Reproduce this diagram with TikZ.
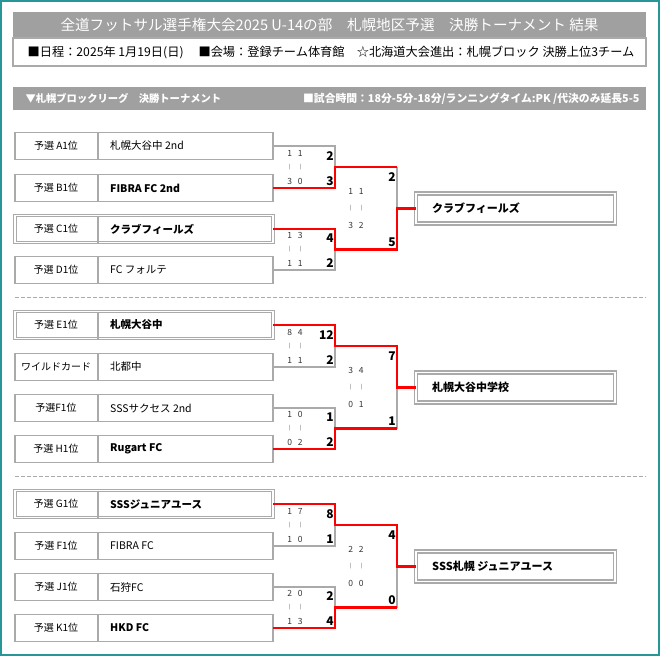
\documentclass[tikz,border=0pt]{standalone}
\usepackage{fontspec}
\usepackage{graphicx}
\setmainfont{Noto Sans CJK JP}
\definecolor{teal1}{RGB}{38,150,150}
\definecolor{barg}{RGB}{160,160,160}
\definecolor{lineg}{RGB}{170,170,170}
\definecolor{redl}{RGB}{255,0,0}
\newcommand\pair[2]{\makebox[5pt]{#1}\hspace{5.5pt}\makebox[5pt]{#2}}
\newcommand\vdashmark{{\fontsize{5}{5}\selectfont |}}
% name, x, ytop, ybot, a, b, c, d
\newcommand\hsc[8]{%
  \node[hs] (#1t) at (#2,#3) {\pair{#5}{#6}};
  \node[hs] (#1m) at (#2,{(#3+#4)/2}) {\pair{\vdashmark}{\vdashmark}};
  \node[hs] (#1b) at (#2,#4) {\pair{#7}{#8}};
}
% name, y, label, team, style
\newcommand\team[5]{%
  \node[#5] (#1) at (144,#2) {};
  \draw[boxline] ([xshift=-46pt]#1.north) -- ([xshift=-46pt]#1.south);
  \node[lbl] (#1l) at ([xshift=-88pt]#1.center) {#3};
  \node[nm] (#1n) at ([xshift=-34pt]#1.center) {#4};
}
\tikzset{
  teambox/.style={draw=lineg, line width=1.3pt, minimum width=258pt, minimum height=27pt, inner sep=0pt, outer sep=0pt},
  winteam/.style={teambox, line width=1.1pt, double=white, double distance=1.2pt},
  winbox/.style={draw=lineg, line width=1.4pt, double=white, double distance=1.4pt, minimum width=199pt, minimum height=30pt, inner sep=0pt, outer sep=0pt},
  boxline/.style={draw=lineg, line width=1.3pt},
  gl/.style={draw=lineg, line width=2pt},
  rl/.style={draw=redl, line width=2.6pt},
  lbl/.style={font=\fontsize{10}{12}\selectfont, inner sep=0pt},
  nm/.style={font=\fontsize{10.5}{12}\selectfont, inner sep=0pt, anchor=west},
  wn/.style={font=\bfseries\fontsize{11}{13}\selectfont, inner sep=0pt, anchor=west},
  hs/.style={font=\fontsize{8.5}{10}\selectfont, inner sep=0pt, text=black!80},
  sc/.style={font=\bfseries\fontsize{12}{14}\selectfont, inner sep=0pt, anchor=east},
  divl/.style={draw=lineg, line width=1.5pt, dash pattern=on 4pt off 2pt}
}
\begin{document}
\begin{tikzpicture}[x=1pt,y=-1pt]
\useasboundingbox (0,0) rectangle (660,656);
\fill[white] (0,0) rectangle (660,656);
\draw[teal1, line width=2.5pt] (1.2,1.2) rectangle (658.8,654.8);
% header
\fill[barg] (13,12) rectangle (646,38);
\node[text=white, font=\fontsize{14.6}{16}\selectfont] (title) at (329.5,25) {全道フットサル選手権大会2025 U-14の部　札幌地区予選　決勝トーナメント 結果};
\draw[lineg, line width=1.2pt] (13,38) rectangle (646,66);
\node[font=\fontsize{12.2}{14}\selectfont] (sub) at (331,52) {■日程：2025年 1月19日(日)　 ■会場：登録チーム体育館　☆北海道大会進出：札幌ブロック 決勝上位3チーム};
\fill[barg] (13,87) rectangle (646,110);
\node[text=white, font=\bfseries\fontsize{10.3}{12}\selectfont, anchor=west] (sec) at (22,98.5) {▼札幌ブロックリーグ　決勝トーナメント};
\node[text=white, font=\bfseries\fontsize{10.8}{12}\selectfont, anchor=east] (time) at (643,98.5) {■試合時間：18分-5分-18分/ランニングタイム:PK /代決のみ延長5-5};
% dividers
\coordinate (d1a) at (15,297.5); \coordinate (d1b) at (646,297.5);
\coordinate (d2a) at (15,476.5); \coordinate (d2b) at (646,476.5);
\draw[divl] (d1a) -- (d1b);
\draw[divl] (d2a) -- (d2b);

% ===== bracket 1 =====
\team{a1}{146}{予選 A1位}{札幌大谷中 2nd}{teambox}
\team{b1}{188}{予選 B1位}{\bfseries FIBRA FC 2nd}{teambox}
\team{c1}{229}{予選 C1位}{\bfseries クラブフィールズ}{winteam}
\team{d1}{270}{予選 D1位}{FC フォルテ}{teambox}
\coordinate (m11) at (335,167);
\coordinate (m12) at (335,249.5);
\coordinate (r11) at (397,167);
\coordinate (r12) at (397,249.5);
\coordinate (f1) at (397,208.5);
\node[winbox] (w1) at (515.5,208.5) {};
\node[wn] (w1n) at (432,208.5) {クラブフィールズ};
\draw[gl] (a1.east) -| (m11);
\draw[gl] (d1.east) -| (m12);
\draw[gl] (r11) -- (f1);
\draw[rl] (b1.east) -| (m11) -- (r11);
\draw[rl] (c1.east) -| (m12) -- (r12) -- (f1) -- (w1.west);
\hsc{h11}{295}{153}{181}{1}{1}{3}{0}
\node[sc] (s11a) at (334,156) {2};
\node[sc] (s11b) at (334,181) {3};
\hsc{h12}{295}{235}{263}{1}{3}{1}{1}
\node[sc] (s12a) at (334,238) {4};
\node[sc] (s12b) at (334,263) {2};
\hsc{h13}{356}{191}{225}{1}{1}{3}{2}
\node[sc] (s13a) at (396,177) {2};
\node[sc] (s13b) at (396,242) {5};

% ===== bracket 2 =====
\team{a2}{325}{予選 E1位}{\bfseries 札幌大谷中}{winteam}
\team{b2}{367}{ワイルドカード}{北都中}{teambox}
\team{c2}{408}{予選F1位}{SSSサクセス 2nd}{teambox}
\team{d2}{449}{予選 H1位}{\bfseries Rugart FC}{teambox}
\coordinate (m21) at (335,346);
\coordinate (m22) at (335,428.5);
\coordinate (r21) at (397,346);
\coordinate (r22) at (397,428.5);
\coordinate (f2) at (397,387.5);
\node[winbox] (w2) at (515.5,387.5) {};
\node[wn] (w2n) at (432,387.5) {札幌大谷中学校};
\draw[gl] (b2.east) -| (m21);
\draw[gl] (c2.east) -| (m22);
\draw[gl] (r22) -- (f2);
\draw[rl] (d2.east) -| (m22) -- (r22);
\draw[rl] (a2.east) -| (m21) -- (r21) -- (f2) -- (w2.west);
\hsc{h21}{295}{332}{360}{8}{4}{1}{1}
\node[sc] (s21a) at (334,335) {12};
\node[sc] (s21b) at (334,360) {2};
\hsc{h22}{295}{414}{442}{1}{0}{0}{2}
\node[sc] (s22a) at (334,417) {1};
\node[sc] (s22b) at (334,442) {2};
\hsc{h23}{356}{370}{404}{3}{4}{0}{1}
\node[sc] (s23a) at (396,356) {7};
\node[sc] (s23b) at (396,421) {1};

% ===== bracket 3 =====
\team{a3}{504}{予選 G1位}{\bfseries SSSジュニアユース}{winteam}
\team{b3}{546}{予選 F1位}{FIBRA FC}{teambox}
\team{c3}{587}{予選 J1位}{石狩FC}{teambox}
\team{d3}{628}{予選 K1位}{\bfseries HKD FC}{teambox}
\coordinate (m31) at (335,525);
\coordinate (m32) at (335,607.5);
\coordinate (r31) at (397,525);
\coordinate (r32) at (397,607.5);
\coordinate (f3) at (397,566.5);
\node[winbox] (w3) at (515.5,566.5) {};
\node[wn] (w3n) at (432,566.5) {SSS札幌 ジュニアユース};
\draw[gl] (b3.east) -| (m31);
\draw[gl] (c3.east) -| (m32);
\draw[gl] (r32) -- (f3);
\draw[rl] (d3.east) -| (m32) -- (r32);
\draw[rl] (a3.east) -| (m31) -- (r31) -- (f3) -- (w3.west);
\hsc{h31}{295}{511}{539}{1}{7}{1}{0}
\node[sc] (s31a) at (334,514) {8};
\node[sc] (s31b) at (334,539) {1};
\hsc{h32}{295}{593}{621}{2}{0}{1}{3}
\node[sc] (s32a) at (334,596) {2};
\node[sc] (s32b) at (334,621) {4};
\hsc{h33}{356}{549}{583}{2}{2}{0}{0}
\node[sc] (s33a) at (396,535) {4};
\node[sc] (s33b) at (396,600) {0};
\end{tikzpicture}
\end{document}
